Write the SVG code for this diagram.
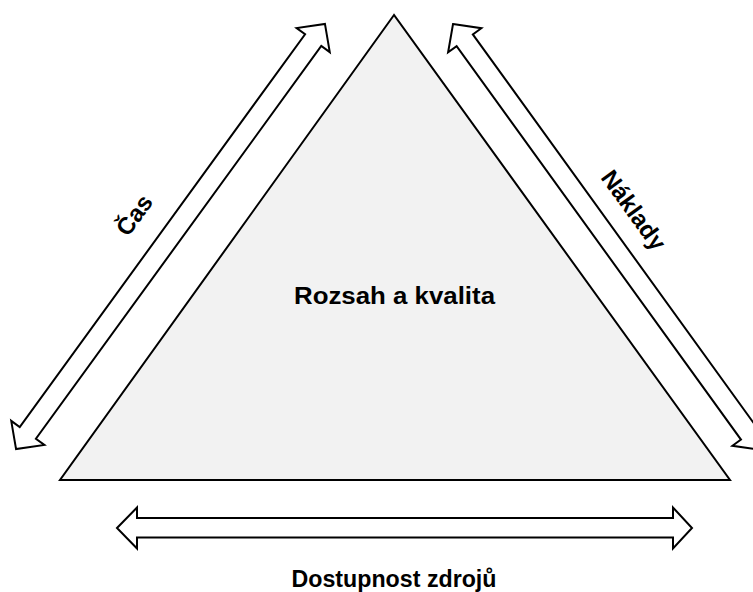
<svg xmlns="http://www.w3.org/2000/svg" width="753" height="592" viewBox="0 0 753 592">
  <style>
    .shape { stroke: #000000; stroke-width: 2; stroke-linejoin: miter; }
    .label { font-family: "Liberation Sans", Arial, sans-serif; font-weight: bold; font-size: 23px; fill: #000000; text-anchor: middle; }
    .side { font-size: 24px; }
  </style>
  <rect x="0" y="0" width="753" height="592" fill="#ffffff"/>

  <g id="triangle">
    <polygon class="shape" points="394,15 60,480 730,480" fill="#f2f2f2"/>
    <text class="label" x="394.5" y="304" textLength="201" lengthAdjust="spacingAndGlyphs">Rozsah a kvalita</text>
  </g>

  <g id="connectors">
    <!-- Time: double arrow along the left side -->
    <g id="arrow-cas" transform="translate(170.5 236.5) rotate(-54)">
      <polygon class="shape" fill="#ffffff" points="-262.75,0 -242.75,-20.5 -242.75,-10 242.75,-10 242.75,-20.5 262.75,0 242.75,20.5 242.75,10 -242.75,10 -242.75,20.5"/>
    </g>
    <!-- Costs: double arrow along the right side -->
    <g id="arrow-naklady" transform="translate(606.9 237) rotate(54.15)">
      <polygon class="shape" fill="#ffffff" points="-262.75,0 -242.75,-20.5 -242.75,-10 242.75,-10 242.75,-20.5 262.75,0 242.75,20.5 242.75,10 -242.75,10 -242.75,20.5"/>
    </g>
    <!-- Resources: horizontal double arrow under the base -->
    <g id="arrow-zdroje">
      <polygon class="shape" fill="#ffffff" points="117,528 137,507.5 137,518 673,518 673,507.5 692,528 673,548.5 673,537.5 137,537.5 137,548.5"/>
    </g>
  </g>

  <g id="label-cas">
    <text class="label side" transform="translate(141 220) rotate(-54)" x="0" y="0">Čas</text>
  </g>
  <g id="label-naklady">
    <text class="label side" transform="translate(627 215) rotate(54)" x="0" y="0">Náklady</text>
  </g>
  <g id="label-zdroje">
    <text class="label" x="394" y="587" textLength="205" lengthAdjust="spacingAndGlyphs">Dostupnost zdrojů</text>
  </g>
</svg>
